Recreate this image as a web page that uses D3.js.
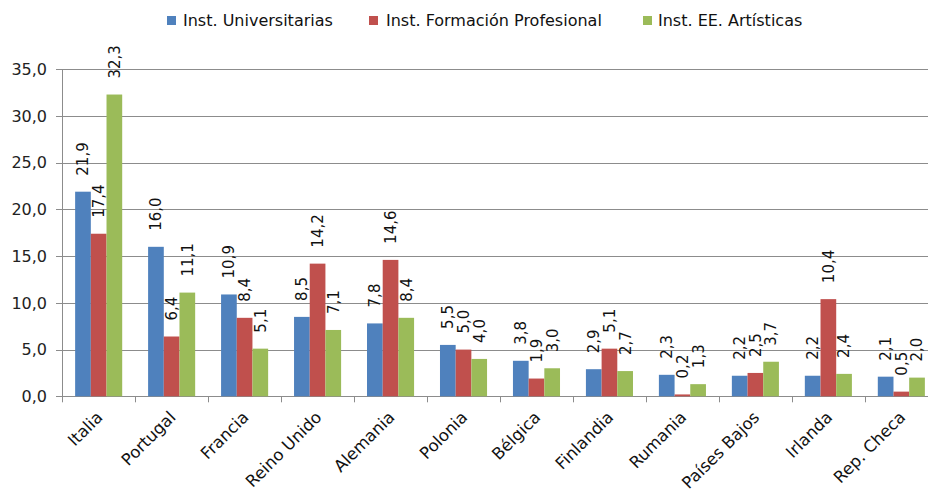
<!DOCTYPE html>
<html><head><meta charset="utf-8">
<script src="https://cdn.jsdelivr.net/npm/d3@7"></script>
<style>body{margin:0;background:#fff}svg{display:block}</style>
</head><body><svg id="c" width="928" height="490"></svg>
<script>
const categories = ["Italia","Portugal","Francia","Reino Unido","Alemania","Polonia","Bélgica","Finlandia","Rumania","Países Bajos","Irlanda","Rep. Checa"];
const seriesNames = ["Inst. Universitarias","Inst. Formación Profesional","Inst. EE. Artísticas"];
const universitarias = [21.9,16.0,10.9,8.5,7.8,5.5,3.8,2.9,2.3,2.2,2.2,2.1];
const formacionProf = [17.4,6.4,8.4,14.2,14.6,5.0,1.9,5.1,0.2,2.5,10.4,0.5];
const artisticas = [32.3,11.1,5.1,7.1,8.4,4.0,3.0,2.7,1.3,3.7,2.4,2.0];
const yTicks = [0,5,10,15,20,25,30,35];
const colors = ["#4F81BD","#C0504D","#9BBB59"];

const series = [universitarias, formacionProf, artisticas];
const svg = d3.select("#c");
const fmt = v => v.toFixed(1).replace(".", ",");
const font = "DejaVu Sans, Verdana, sans-serif";

const x = d3.scaleBand().domain(categories).range([62, 938]).paddingInner(0.355).paddingOuter(0.18);
const x1 = d3.scaleBand().domain(d3.range(3)).range([0, x.bandwidth()]);
const y = d3.scaleLinear().domain([0, 35]).range([396.3, 69.3]);

// gridlines
svg.append("g").selectAll("line").data(yTicks).join("line")
  .attr("x1", 56).attr("x2", 928)
  .attr("y1", d => Math.round(y(d)) + 0.5).attr("y2", d => Math.round(y(d)) + 0.5)
  .attr("stroke", "#8c8c8c").attr("stroke-width", 1);

// y axis line
svg.append("line").attr("x1", 62.5).attr("x2", 62.5).attr("y1", y(35)).attr("y2", y(0))
  .attr("stroke", "#8c8c8c");

// y tick labels
svg.append("g").selectAll("text").data(yTicks).join("text")
  .attr("x", 47).attr("y", d => y(d)).attr("dy", "0.36em")
  .attr("text-anchor", "end").attr("font-family", font).attr("font-size", 16)
  .attr("fill", "#222").text(d => fmt(d));

// x-axis tick marks at category boundaries
const step = x.step();
const bounds = d3.range(categories.length + 1).map(i => 62 + i * step);
svg.append("g").selectAll("line").data(bounds).join("line")
  .attr("x1", d => Math.round(d) + 0.5).attr("x2", d => Math.round(d) + 0.5)
  .attr("y1", y(0)).attr("y2", y(0) + 6).attr("stroke", "#8c8c8c");

// bars
const groups = svg.append("g").selectAll("g").data(categories).join("g")
  .attr("transform", d => `translate(${x(d)},0)`);
groups.selectAll("rect").data((c, i) => series.map((s, k) => ({k, v: s[i]}))).join("rect")
  .attr("x", d => x1(d.k)).attr("width", x1.bandwidth())
  .attr("y", d => y(d.v)).attr("height", d => y(0) - y(d.v))
  .attr("fill", d => colors[d.k]);

// data labels
groups.selectAll("text").data((c, i) => series.map((s, k) => ({k, v: s[i]}))).join("text")
  .attr("transform", d => `translate(${x1(d.k) + x1.bandwidth()/2},${y(d.v) - 16}) rotate(-90)`)
  .attr("dy", "0.36em").attr("font-family", font).attr("font-size", 15)
  .attr("fill", "#111").text(d => fmt(d.v));

// x labels
svg.append("g").selectAll("text").data(categories).join("text")
  .attr("transform", d => `translate(${x(d) + x.bandwidth()/2 + 5},${y(0) + 22}) rotate(-45)`)
  .attr("text-anchor", "end").attr("font-family", font).attr("font-size", 16.5)
  .attr("fill", "#111").text(d => d);

// legend
const legX = [167, 369, 643];
const legDx = [16, 17, 15];
const leg = svg.append("g").selectAll("g").data(seriesNames).join("g")
  .attr("transform", (d, i) => `translate(${legX[i]},16)`);
leg.append("rect").attr("width", 9).attr("height", 9).attr("fill", (d, i) => colors[i]);
leg.append("text").attr("x", (d, i) => legDx[i]).attr("y", 4.5).attr("dy", "0.36em")
  .attr("font-family", font).attr("font-size", 16).attr("fill", "#111").text(d => d);
</script></body></html>
